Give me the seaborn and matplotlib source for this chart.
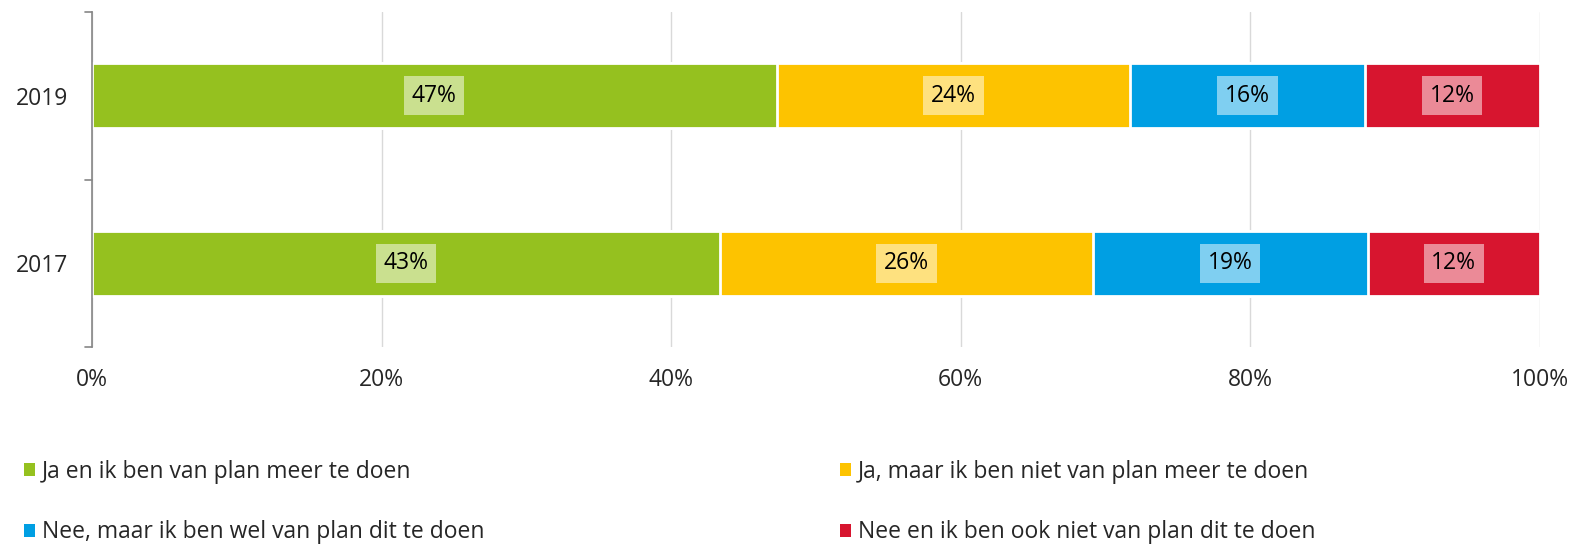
import numpy as np
import pandas as pd
import matplotlib
matplotlib.use("Agg")
import matplotlib.pyplot as plt
import seaborn as sns
from matplotlib.patches import Patch

# data (shares in %)
years = ["2019", "2017"]
series = [
    "Ja en ik ben van plan meer te doen",
    "Ja, maar ik ben niet van plan meer te doen",
    "Nee, maar ik ben wel van plan dit te doen",
    "Nee en ik ben ook niet van plan dit te doen",
]
ja_meer = [47.3, 43.4]
ja_niet = [24.4, 25.7]
nee_wel = [16.2, 19.0]
nee_niet = [12.1, 11.9]
colors = ["#95C11F", "#FDC300", "#009FE3", "#D7152F"]

values = [ja_meer, ja_niet, nee_wel, nee_niet]
cum = np.cumsum(np.array(values), axis=0)

sns.set_style("white")
plt.rcParams["font.family"] = ["Open Sans", "DejaVu Sans"]
fs = 16.5

fig = plt.figure(figsize=(15.74, 5.44), dpi=100)
ax = fig.add_axes([0.0584, 0.362, 0.9200, 0.616])

# stacked bars: draw cumulative totals, largest first
for i in reversed(range(len(series))):
    df = pd.DataFrame({"year": years, "total": cum[i]})
    sns.barplot(data=df, x="total", y="year", orient="h", color=colors[i],
                width=0.385, edgecolor="white", linewidth=2, saturation=1, ax=ax)

# value labels with light box
for i in range(len(series)):
    for j, yr in enumerate(years):
        v = values[i][j]
        xc = cum[i][j] - v / 2
        ax.text(xc, j, f"{v:.0f}%", ha="center", va="center", fontsize=fs,
                color="black",
                bbox=dict(boxstyle="square,pad=0.33", fc="white", ec="none", alpha=0.5))

ax.set_xlim(0, 100)
ax.set_ylim(1.5, -0.5)
ax.set_xticks(range(0, 101, 20))
ax.set_xticklabels([f"{t}%" for t in range(0, 101, 20)], fontsize=fs)
ax.tick_params(axis="y", labelsize=fs, length=0, pad=17)
ax.tick_params(axis="x", length=0, pad=15)
ax.set_xlabel("")
ax.set_ylabel("")
ax.grid(axis="x", color="#D9D9D9", linewidth=1)
ax.set_axisbelow(True)
for s in ["top", "right", "bottom"]:
    ax.spines[s].set_visible(False)
ax.spines["left"].set_color("#868686")
ax.spines["left"].set_linewidth(1.2)
# small category separators on the left axis
for yv in [-0.5, 0.5, 1.5]:
    ax.plot([-0.5, 0], [yv, yv], color="#868686", lw=1.2, clip_on=False)

order = [0, 2, 1, 3]
handles = [Patch(facecolor=colors[k], edgecolor="none") for k in order]
labels = [series[k] for k in order]
fig.legend(handles, labels, ncol=2, loc="upper left", bbox_to_anchor=(0.002, 0.193),
           frameon=False, fontsize=fs, handlelength=0.5, handleheight=0.5,
           handletextpad=0.3, columnspacing=15.5, labelspacing=1.6)

fig.savefig("out.png", dpi=100)
